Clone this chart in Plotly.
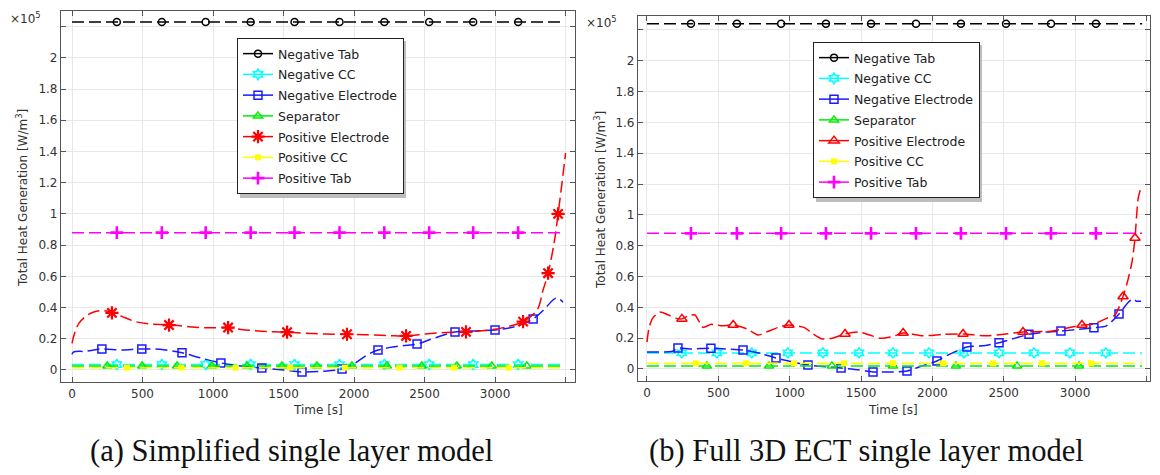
import plotly.graph_objects as go

# ---------------- DATA (values in units of 1e5 W/m^3) ----------------
series_names = ["Negative Tab", "Negative CC", "Negative Electrode", "Separator",
                "Positive Electrode", "Positive CC", "Positive Tab"]

# (a) Simplified single layer model
a_flat_t = [0, 3480]
a_neg_tab = 2.23
a_neg_tab_mx = [318, 637, 948, 1267, 1578, 1897, 2215, 2533, 2845, 3164]
a_neg_cc = 0.035
a_neg_cc_mx = [318, 637, 948, 1267, 1578, 1897, 2215, 2533, 2845, 3164]
a_sep = 0.025
a_sep_mx = [250, 497, 745, 993, 1241, 1489, 1737, 1985, 2233, 2481, 2729, 2977, 3225]
a_pos_cc = 0.015
a_pos_cc_mx = [390, 775, 1160, 1547, 1935, 2322, 2709, 3097]
a_pos_tab = 0.88
a_pos_tab_mx = [318, 637, 948, 1267, 1578, 1897, 2215, 2533, 2845, 3164]

a_neg_el_t = [0, 10, 100, 212, 350, 495, 650, 780, 900, 1056, 1200, 1346, 1500, 1631, 1780,
              1915, 2000, 2100, 2170, 2300, 2447, 2570, 2716, 2850, 3000, 3150, 3270, 3350,
              3433, 3482]
a_neg_el_v = [0.10, 0.115, 0.12, 0.135, 0.128, 0.135, 0.13, 0.11, 0.08, 0.045, 0.025, 0.013,
              0.0, -0.013, -0.008, 0.006, 0.04, 0.10, 0.128, 0.15, 0.167, 0.205, 0.243, 0.25,
              0.256, 0.28, 0.327, 0.39, 0.46, 0.435]
a_neg_el_mx = [212, 495, 780, 1056, 1346, 1631, 1915, 2170, 2447, 2716, 3000, 3270]
a_neg_el_my = [0.135, 0.135, 0.11, 0.045, 0.013, -0.013, 0.006, 0.128, 0.167, 0.243, 0.256, 0.327]

a_pos_el_t = [0, 20, 50, 100, 150, 200, 283, 350, 450, 550, 688, 800, 950, 1107, 1200, 1300,
              1400, 1525, 1650, 1800, 1950, 2100, 2250, 2369, 2500, 2650, 2794, 2950, 3100,
              3199, 3298, 3340, 3376, 3420, 3447, 3475, 3500]
a_pos_el_v = [0.17, 0.24, 0.30, 0.345, 0.37, 0.38, 0.37, 0.345, 0.31, 0.295, 0.29, 0.28,
              0.27, 0.272, 0.26, 0.252, 0.246, 0.242, 0.235, 0.23, 0.229, 0.225, 0.22, 0.218,
              0.23, 0.24, 0.244, 0.255, 0.28, 0.31, 0.385, 0.51, 0.62, 0.82, 1.0, 1.2, 1.39]
a_pos_el_mx = [283, 688, 1107, 1525, 1950, 2369, 2794, 3199, 3376, 3447]
a_pos_el_my = [0.366, 0.288, 0.272, 0.242, 0.229, 0.218, 0.244, 0.31, 0.62, 1.0]

# (b) Full 3D ECT single layer model
b_flat_t = [0, 3470]
b_neg_tab = 2.24
b_neg_tab_mx = [308, 630, 940, 1254, 1570, 1885, 2200, 2516, 2831, 3146]
b_neg_cc = 0.104
b_neg_cc_mx = [243, 490, 734, 987, 1233, 1486, 1724, 1976, 2221, 2467, 2712, 2964, 3216]
b_sep = 0.02
b_sep_mx = [420, 855, 1296, 1724, 2165, 2593, 3027]
b_pos_cc = 0.037
b_pos_cc_mx = [343, 694, 1030, 1381, 1724, 2075, 2425, 2768, 3111]
b_pos_tab = 0.88
b_pos_tab_mx = [308, 630, 940, 1254, 1570, 1885, 2200, 2516, 2831, 3146]

b_neg_el_t = [0, 100, 180, 217, 300, 448, 550, 673, 800, 904, 1000, 1128, 1250, 1360, 1480,
              1584, 1700, 1822, 1930, 2032, 2130, 2242, 2350, 2467, 2580, 2677, 2800, 2901,
              3000, 3132, 3220, 3308, 3370, 3406, 3430, 3462]
b_neg_el_v = [0.11, 0.11, 0.115, 0.136, 0.13, 0.135, 0.13, 0.123, 0.10, 0.071, 0.05, 0.026,
              0.015, 0.006, -0.005, -0.019, -0.02, -0.013, 0.02, 0.052, 0.10, 0.143, 0.15,
              0.17, 0.20, 0.225, 0.24, 0.246, 0.255, 0.267, 0.28, 0.357, 0.43, 0.455, 0.44, 0.44]
b_neg_el_mx = [217, 448, 673, 904, 1128, 1360, 1584, 1822, 2032, 2242, 2467, 2677, 2901, 3132, 3308]
b_neg_el_my = [0.136, 0.135, 0.123, 0.071, 0.026, 0.006, -0.019, -0.013, 0.052, 0.143, 0.17,
               0.225, 0.246, 0.267, 0.357]

b_pos_el_t = [0, 15, 40, 90, 150, 200, 245, 290, 336, 392, 450, 520, 604, 700, 778, 850, 920,
              995, 1100, 1160, 1226, 1300, 1388, 1486, 1560, 1633, 1720, 1795, 1934, 2080,
              2215, 2382, 2500, 2635, 2831, 3048, 3126, 3223, 3280, 3336, 3371, 3400, 3420,
              3441, 3462]
b_pos_el_v = [0.175, 0.27, 0.33, 0.37, 0.35, 0.33, 0.325, 0.345, 0.35, 0.27, 0.29, 0.28,
              0.285, 0.26, 0.22, 0.245, 0.27, 0.285, 0.27, 0.23, 0.195, 0.20, 0.227, 0.24,
              0.22, 0.20, 0.21, 0.233, 0.215, 0.225, 0.227, 0.215, 0.225, 0.24, 0.245, 0.285,
              0.29, 0.33, 0.35, 0.47, 0.58, 0.70, 0.85, 1.10, 1.18]
b_pos_el_mx = [245, 604, 995, 1388, 1795, 2215, 2635, 3048, 3336, 3420]
b_pos_el_my = [0.325, 0.285, 0.285, 0.227, 0.233, 0.227, 0.24, 0.285, 0.47, 0.85]

x_tick_vals = [0, 500, 1000, 1500, 2000, 2500, 3000]
y_tick_vals = [0, 0.2, 0.4, 0.6, 0.8, 1.0, 1.2, 1.4, 1.6, 1.8, 2.0]
y_tick_text = ["0", "0.2", "0.4", "0.6", "0.8", "1", "1.2", "1.4", "1.6", "1.8", "2"]

# ---------------- STYLES ----------------
colors = {"Negative Tab": "#000000", "Negative CC": "#00ffff", "Negative Electrode": "#1a1aff",
          "Separator": "#00ee00", "Positive Electrode": "#ff0000", "Positive CC": "#ffff00",
          "Positive Tab": "#ff00ff"}
FONT = "DejaVu Sans"

W, H = 1160, 475
OFF = 8  # page body margin offset


def px(x):
    return (x - OFF) / W


def py(y):
    return 1 - (y - OFF) / H


fig = go.Figure()


def add_series(name, t, v, mx, my, xa, ya, legend, symbol, msize, mlw, smooth):
    c = colors[name]
    fig.add_trace(go.Scatter(x=t, y=v, mode="lines", xaxis=xa, yaxis=ya, showlegend=False,
                             line=dict(color=c, width=1.5, dash="12px,5px",
                                       shape="spline" if smooth else "linear",
                                       smoothing=smooth if smooth else None),
                             hoverinfo="skip"))
    mk = dict(symbol=symbol, size=msize, color=c, line=dict(color=c, width=mlw))
    fig.add_trace(go.Scatter(x=mx, y=my, mode="markers", xaxis=xa, yaxis=ya,
                             showlegend=False, marker=mk))
    fig.add_trace(go.Scatter(x=[None], y=[None], mode="lines+markers", name=name,
                             xaxis=xa, yaxis=ya, legend=legend,
                             legendgroup=legend + name,
                             line=dict(color=c, width=1.5), marker=mk))


def flat(val, t):
    return [val for _ in t]


# (a)
add_series("Negative Tab", a_flat_t, flat(a_neg_tab, a_flat_t), a_neg_tab_mx,
           flat(a_neg_tab, a_neg_tab_mx), "x", "y", "legend", "circle-open", 7, 1.5, 0)
add_series("Negative CC", a_flat_t, flat(a_neg_cc, a_flat_t), a_neg_cc_mx,
           flat(a_neg_cc, a_neg_cc_mx), "x", "y", "legend", "hexagram-open", 8, 1.5, 0)
add_series("Negative Electrode", a_neg_el_t, a_neg_el_v, a_neg_el_mx, a_neg_el_my,
           "x", "y", "legend", "square-open", 8, 1.5, 1.0)
add_series("Separator", a_flat_t, flat(a_sep, a_flat_t), a_sep_mx,
           flat(a_sep, a_sep_mx), "x", "y", "legend", "triangle-up-open", 8, 1.5, 0)
add_series("Positive Electrode", a_pos_el_t, a_pos_el_v, a_pos_el_mx, a_pos_el_my,
           "x", "y", "legend", "asterisk-open", 11, 2.2, 1.0)
add_series("Positive CC", a_flat_t, flat(a_pos_cc, a_flat_t), a_pos_cc_mx,
           flat(a_pos_cc, a_pos_cc_mx), "x", "y", "legend", "square", 6, 0, 0)
add_series("Positive Tab", a_flat_t, flat(a_pos_tab, a_flat_t), a_pos_tab_mx,
           flat(a_pos_tab, a_pos_tab_mx), "x", "y", "legend", "cross-thin-open", 9, 2.6, 0)

# (b)
add_series("Negative Tab", b_flat_t, flat(b_neg_tab, b_flat_t), b_neg_tab_mx,
           flat(b_neg_tab, b_neg_tab_mx), "x2", "y2", "legend2", "circle-open", 7, 1.5, 0)
add_series("Negative CC", b_flat_t, flat(b_neg_cc, b_flat_t), b_neg_cc_mx,
           flat(b_neg_cc, b_neg_cc_mx), "x2", "y2", "legend2", "hexagram-open", 8, 1.5, 0)
add_series("Negative Electrode", b_neg_el_t, b_neg_el_v, b_neg_el_mx, b_neg_el_my,
           "x2", "y2", "legend2", "square-open", 8, 1.5, 0.6)
add_series("Separator", b_flat_t, flat(b_sep, b_flat_t), b_sep_mx,
           flat(b_sep, b_sep_mx), "x2", "y2", "legend2", "triangle-up-open", 8, 1.5, 0)
add_series("Positive Electrode", b_pos_el_t, b_pos_el_v, b_pos_el_mx, b_pos_el_my,
           "x2", "y2", "legend2", "triangle-up-open", 9, 1.5, 0.6)
add_series("Positive CC", b_flat_t, flat(b_pos_cc, b_flat_t), b_pos_cc_mx,
           flat(b_pos_cc, b_pos_cc_mx), "x2", "y2", "legend2", "square", 6, 0, 0)
add_series("Positive Tab", b_flat_t, flat(b_pos_tab, b_flat_t), b_pos_tab_mx,
           flat(b_pos_tab, b_pos_tab_mx), "x2", "y2", "legend2", "cross-thin-open", 9, 2.6, 0)

AX = "#555555"


def xax(domain, rng, anchor):
    return dict(domain=domain, range=rng, anchor=anchor, tickvals=x_tick_vals,
                showgrid=True, gridcolor="#e8e8e8", gridwidth=1, zeroline=False,
                showline=True, linecolor=AX, linewidth=1.2, mirror="ticks",
                ticks="inside", ticklen=5, tickcolor=AX,
                minor=dict(tick0=0, dtick=500, ticks="inside", ticklen=5, tickcolor=AX,
                           showgrid=True, gridcolor="#e8e8e8"),
                tickfont=dict(family=FONT, size=12, color="#333333"))


def yax(domain, rng, anchor):
    return dict(domain=domain, range=rng, tickvals=y_tick_vals, ticktext=y_tick_text,
                anchor=anchor,
                showgrid=True, gridcolor="#e8e8e8", gridwidth=1, zeroline=False,
                showline=True, linecolor=AX, linewidth=1.2, mirror="ticks",
                ticks="inside", ticklen=5, tickcolor=AX,
                minor=dict(tick0=0, dtick=0.2, ticks="inside", ticklen=5, tickcolor=AX,
                           showgrid=True, gridcolor="#e8e8e8"),
                tickfont=dict(family=FONT, size=12, color="#333333"))


legend_common = dict(bgcolor="white", bordercolor="#222222", borderwidth=1,
                     font=dict(family=FONT, size=12.5, color="#222222"),
                     xanchor="left", yanchor="top", itemwidth=30, tracegroupgap=1.5,
                     traceorder="grouped")

LA = (237, 38)   # legend (a) top-left in screen px
LB = (813, 42)   # legend (b) top-left in screen px
LW, LH = 166, 157

fig.update_layout(
    width=W, height=H, margin=dict(l=0, r=0, t=0, b=0),
    paper_bgcolor="white", plot_bgcolor="white",
    xaxis=xax([px(61), px(575)], [-78, 3567], "y"),
    yaxis=yax([py(382), py(11)], [-0.077, 2.30], "x"),
    xaxis2=xax([px(638), px(1150)], [-63, 3525], "y2"),
    yaxis2=yax([py(381), py(16)], [-0.078, 2.29], "x2"),
    legend=dict(x=px(LA[0]), y=py(LA[1]), **legend_common),
    legend2=dict(x=px(LB[0]), y=py(LB[1]), **legend_common),
)

# legend drop shadows
shapes = []
for (lx, ly) in [LA, LB]:
    shapes.append(dict(type="rect", xref="paper", yref="paper", layer="above",
                       x0=px(lx + 3), x1=px(lx + LW + 3),
                       y0=py(ly + LH + 3), y1=py(ly + 3),
                       fillcolor="#bdbdbd", line=dict(width=0)))
fig.update_layout(shapes=shapes)

ann = []
for xp, yp in [(8, 18), (584, 22)]:
    ann.append(dict(x=px(xp), y=py(yp), xref="paper", yref="paper", xanchor="left",
                    yanchor="middle", showarrow=False, text="×10<sup>5</sup>",
                    font=dict(family=FONT, size=12, color="#333333")))
for xp, yp in [(22, 198), (600, 200)]:
    ann.append(dict(x=px(xp), y=py(yp), xref="paper", yref="paper", xanchor="center",
                    yanchor="middle", showarrow=False, textangle=-90,
                    text="Total Heat Generation [W/m<sup>3</sup>]",
                    font=dict(family=FONT, size=12, color="#333333")))
for xp, yp in [(318, 410), (893, 410)]:
    ann.append(dict(x=px(xp), y=py(yp), xref="paper", yref="paper", xanchor="center",
                    yanchor="middle", showarrow=False, text="Time [s]",
                    font=dict(family=FONT, size=12, color="#333333")))
for xp, txt in [(291, "(a) Simplified single layer model"),
                (866, "(b) Full 3D ECT single layer model")]:
    ann.append(dict(x=px(xp), y=py(451), xref="paper", yref="paper", xanchor="center",
                    yanchor="middle", showarrow=False, text=txt,
                    font=dict(family="Liberation Serif", size=30.5, color="#111111")))
fig.update_layout(annotations=ann)

fig.write_html("out.html")
